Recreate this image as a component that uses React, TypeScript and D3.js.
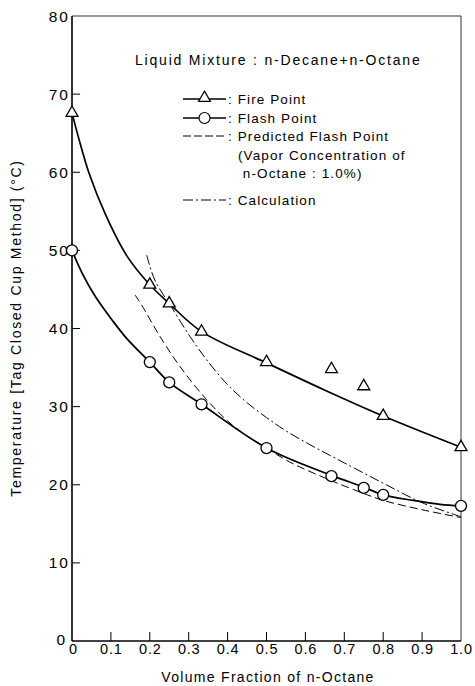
import React, { useEffect, useRef } from "react";
import * as d3 from "d3";

// measured points (volume fraction of n-octane, temperature °C)
const fireX = [0, 0.2, 0.25, 0.333, 0.5, 0.667, 0.75, 0.8, 1.0];
const fireY = [67.6, 45.6, 43.2, 39.6, 35.7, 34.8, 32.6, 28.8, 24.8];
const flashX = [0, 0.2, 0.25, 0.333, 0.5, 0.667, 0.75, 0.8, 1.0];
const flashY = [50, 35.7, 33.1, 30.3, 24.7, 21.1, 19.6, 18.7, 17.3];

// drawn curves
const fireCurveX = [0, 0.017, 0.043, 0.086, 0.141, 0.2, 0.25, 0.333, 0.5, 0.646, 0.8, 1.0];
const fireCurveY = [67.6, 64.4, 60.0, 54.6, 49.3, 45.6, 43.2, 39.6, 35.6, 32.2, 28.8, 24.8];
const flashCurveX = [0, 0.026, 0.06, 0.103, 0.141, 0.2, 0.25, 0.333, 0.5, 0.667, 0.75, 0.8, 0.877, 0.946, 1.0];
const flashCurveY = [50, 47.1, 44.1, 41.1, 38.7, 35.7, 33.1, 30.3, 24.7, 21.2, 19.7, 18.7, 18.0, 17.5, 17.3];
const predX = [0.162, 0.179, 0.226, 0.278, 0.346, 0.406, 0.466, 0.5, 0.56, 0.663, 0.749, 0.8, 0.9, 1.0];
const predY = [44.3, 43.0, 39.0, 35.1, 30.9, 27.9, 25.7, 24.7, 22.9, 20.6, 18.9, 18.0, 16.8, 15.8];
const calcX = [0.192, 0.213, 0.26, 0.303, 0.346, 0.4, 0.45, 0.5, 0.55, 0.62, 0.7, 0.8, 0.9, 1.0];
const calcY = [49.4, 46.2, 42.4, 39.0, 36.0, 32.8, 30.5, 28.6, 26.9, 24.9, 22.8, 20.2, 17.7, 15.9];

const xTicks = [0.1, 0.2, 0.3, 0.4, 0.5, 0.6, 0.7, 0.8, 0.9];
const xTickLabels = ["0", "0.1", "0.2", "0.3", "0.4", "0.5", "0.6", "0.7", "0.8", "0.9", "1.0"];
const yTicks = [10, 20, 30, 40, 50, 60, 70];
const yTickLabels = ["0", "10", "20", "30", "40", "50", "60", "70", "80"];

const legendItems = [
  { kind: "fire", lines: ["Fire Point"] },
  { kind: "flash", lines: ["Flash Point"] },
  { kind: "pred", lines: ["Predicted Flash Point", "(Vapor Concentration of", " n-Octane : 1.0%)"] },
  { kind: "calc", lines: ["Calculation"] },
];

const FONT = "'Liberation Sans', Arial, sans-serif";

export default function App() {
  const svgRef = useRef<SVGSVGElement>(null);

  useEffect(() => {
    const svg = d3.select(svgRef.current);
    svg.selectAll("*").remove();

    const x = d3.scaleLinear().domain([0, 1]).range([72, 461]);
    const y = d3.scaleLinear().domain([0, 80]).range([641, 16]);

    const tri = d3.symbol().type(d3.symbolTriangle).size(62);

    // frame
    svg.append("line").attr("x1", x(0)).attr("x2", x(1)).attr("y1", y(80)).attr("y2", y(80))
      .attr("stroke", "#333").attr("stroke-width", 1);
    svg.append("line").attr("x1", x(1)).attr("x2", x(1)).attr("y1", y(80)).attr("y2", y(0))
      .attr("stroke", "#333").attr("stroke-width", 1);
    svg.append("line").attr("x1", x(0)).attr("x2", x(0)).attr("y1", y(80)).attr("y2", y(0))
      .attr("stroke", "#000").attr("stroke-width", 1.6);
    svg.append("line").attr("x1", x(0)).attr("x2", x(1)).attr("y1", y(0)).attr("y2", y(0))
      .attr("stroke", "#000").attr("stroke-width", 1.6);

    // ticks
    svg.selectAll(".yt").data(yTicks).join("line")
      .attr("x1", x(0)).attr("x2", x(0) + 8).attr("y1", (d) => y(d)).attr("y2", (d) => y(d))
      .attr("stroke", "#000").attr("stroke-width", 1);
    svg.selectAll(".xt").data(xTicks).join("line")
      .attr("x1", (d) => x(d)).attr("x2", (d) => x(d)).attr("y1", y(0)).attr("y2", y(0) - 9)
      .attr("stroke", "#000").attr("stroke-width", 1);

    svg.selectAll(".yl").data(yTickLabels).join("text")
      .attr("x", (d, i) => (i === 0 ? 67 : 70))
      .attr("y", (d, i) => y(i * 10) + (i === 0 ? 3.5 : 5.5))
      .attr("text-anchor", "end").attr("font-family", FONT).attr("font-size", 15.5)
      .attr("letter-spacing", 2)
      .text((d) => d);
    svg.selectAll(".xl").data(xTickLabels).join("text")
      .attr("x", (d, i) => x(i / 10) + (i === 0 ? 1.5 : 0.5)).attr("y", 654)
      .attr("text-anchor", "middle").attr("font-family", FONT).attr("font-size", 14.5)
      .attr("letter-spacing", 0.8)
      .text((d) => d);

    svg.append("text").attr("x", 268).attr("y", 682).attr("text-anchor", "middle")
      .attr("font-family", FONT).attr("font-size", 14).attr("letter-spacing", 1.3)
      .text("Volume Fraction of n-Octane");
    svg.append("text").attr("transform", "translate(21,328) rotate(-90)").attr("text-anchor", "middle")
      .attr("font-family", FONT).attr("font-size", 14).attr("letter-spacing", 1.7)
      .text("Temperature [Tag Closed Cup Method] (°C)");

    const line = d3.line<[number, number]>()
      .x((d) => x(d[0])).y((d) => y(d[1]))
      .curve(d3.curveCatmullRom.alpha(0.5));

    const pts = (xs: number[], ys: number[]) => xs.map((v, i) => [v, ys[i]] as [number, number]);

    svg.append("path").attr("d", line(pts(predX, predY))).attr("fill", "none")
      .attr("stroke", "#000").attr("stroke-width", 1).attr("stroke-dasharray", "8,4");
    svg.append("path").attr("d", line(pts(calcX, calcY))).attr("fill", "none")
      .attr("stroke", "#000").attr("stroke-width", 1).attr("stroke-dasharray", "10,3,2,3");
    svg.append("path").attr("d", line(pts(fireCurveX, fireCurveY))).attr("fill", "none")
      .attr("stroke", "#000").attr("stroke-width", 1.7);
    svg.append("path").attr("d", line(pts(flashCurveX, flashCurveY))).attr("fill", "none")
      .attr("stroke", "#000").attr("stroke-width", 1.7);

    svg.selectAll(".fire").data(pts(fireX, fireY)).join("path")
      .attr("d", tri).attr("transform", (d) => `translate(${x(d[0])},${y(d[1])})`)
      .attr("fill", "#fff").attr("stroke", "#000").attr("stroke-width", 1.3);
    svg.selectAll(".flash").data(pts(flashX, flashY)).join("circle")
      .attr("cx", (d) => x(d[0])).attr("cy", (d) => y(d[1])).attr("r", 5.5)
      .attr("fill", "#fff").attr("stroke", "#000").attr("stroke-width", 1.3);

    // legend
    svg.append("text").attr("x", 135).attr("y", 65).attr("font-family", FONT).attr("font-size", 14)
      .attr("letter-spacing", 1.8)
      .text("Liquid Mixture : n-Decane+n-Octane");

    const rowY = [99, 118, 136, 200];
    const lx0 = 183;
    const lx1 = 226;
    legendItems.forEach((item, i) => {
      const ry = rowY[i];
      const g = svg.append("g");
      const l = g.append("line").attr("x1", lx0).attr("x2", lx1).attr("y1", ry).attr("y2", ry).attr("stroke", "#000");
      if (item.kind === "fire" || item.kind === "flash") l.attr("stroke-width", 1.6);
      if (item.kind === "pred") l.attr("stroke-width", 1).attr("stroke-dasharray", "8,3");
      if (item.kind === "calc") l.attr("stroke-width", 1).attr("stroke-dasharray", "10,3,2,3");
      if (item.kind === "fire") {
        g.append("path").attr("d", tri).attr("transform", `translate(${(lx0 + lx1) / 2},${ry - 1})`)
          .attr("fill", "#fff").attr("stroke", "#000").attr("stroke-width", 1.2);
      }
      if (item.kind === "flash") {
        g.append("circle").attr("cx", (lx0 + lx1) / 2).attr("cy", ry).attr("r", 5.5)
          .attr("fill", "#fff").attr("stroke", "#000").attr("stroke-width", 1.2);
      }
      item.lines.forEach((t, j) => {
        g.append("text").attr("x", j === 0 ? 228 : 238).attr("y", ry + 5 + j * 18.5)
          .attr("font-family", FONT).attr("font-size", 13.5).attr("letter-spacing", 1.1)
          .style("white-space", "pre")
          .text(j === 0 ? ": " + t : t);
      });
    });
  }, []);

  return (
    <div style={{ position: "absolute", left: 0, top: 0 }}>
      <svg ref={svgRef} width={475} height={686} style={{ display: "block", background: "#fff" }}></svg>
    </div>
  );
}
